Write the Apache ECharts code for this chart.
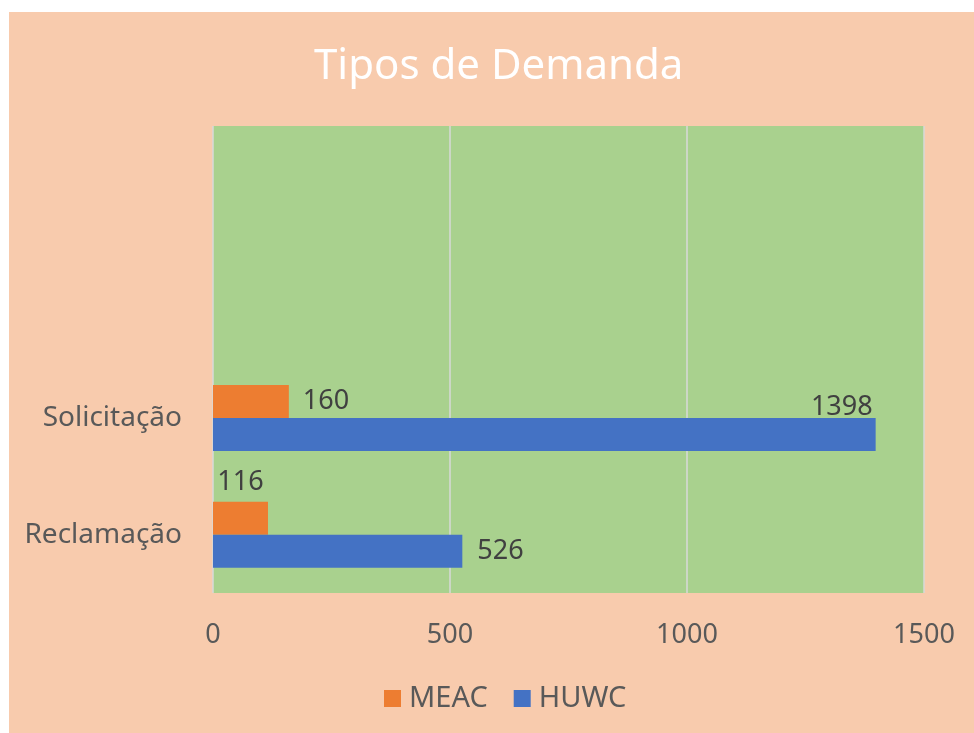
<!DOCTYPE html>
<html>
<head>
<meta charset="utf-8">
<script src="https://cdn.jsdelivr.net/npm/echarts@6/dist/echarts.min.js"></script>
<style>
  body { margin: 0; background: #ffffff; }
  #chart { position: absolute; left: 9px; top: 12px; width: 965px; height: 721px; }
</style>
</head>
<body>
<div id="chart"></div>
<script>
// categories from bottom to top, two empty slots on top like the original
let categories = ['Reclamação', 'Solicitação', '', ''];
let seriesNames = ['MEAC', 'HUWC'];
let meac = [116, 160];
let huwc = [526, 1398];
let xTicks = [0, 500, 1000, 1500];

let labelFont = { fontFamily: 'Noto Sans', fontSize: 27, color: '#404040' };

window.onload = function(){
    let myChart = echarts.init(document.getElementById('chart'));

    let option = {
        backgroundColor: '#F8CBAD',
        animation: false,
        textStyle: { fontFamily: 'Noto Sans' },
        title: {
            text: 'Tipos de Demanda',
            left: 300,
            top: 29,
            textStyle: { color: '#ffffff', fontSize: 42, fontWeight: 'normal', fontFamily: 'Noto Sans' }
        },
        legend: {
            data: seriesNames,
            left: 370,
            top: 667,
            itemWidth: 17,
            itemHeight: 17,
            itemGap: 26,
            icon: 'rect',
            textStyle: { fontSize: 29, color: '#595959', padding: [0, 0, 0, 3] }
        },
        grid: {
            left: 204,
            top: 114,
            width: 711,
            height: 467,
            show: true,
            backgroundColor: '#A9D18E',
            borderWidth: 0
        },
        xAxis: {
            type: 'value',
            min: xTicks[0],
            max: xTicks[xTicks.length - 1],
            interval: 500,
            axisLine: { show: false },
            axisTick: { show: false },
            splitLine: { show: true, lineStyle: { color: '#D9D9D9', width: 1.5 } },
            axisLabel: { fontSize: 27, color: '#595959', margin: 29, formatter: function(v){ return String(v); } }
        },
        yAxis: {
            type: 'category',
            data: categories,
            axisLine: { show: false },
            axisTick: { show: false },
            splitLine: { show: false },
            axisLabel: { fontSize: 28, color: '#595959', margin: 31 }
        },
        series: [
            {
                name: seriesNames[0],
                type: 'bar',
                barWidth: 33,
                barGap: '0%',
                color: '#ED7D31',
                label: Object.assign({ show: true, position: 'right', distance: 14 }, labelFont),
                data: [
                    { value: meac[0], label: { position: 'top', distance: 6 } },
                    meac[1]
                ]
            },
            {
                name: seriesNames[1],
                type: 'bar',
                barWidth: 33,
                barGap: '0%',
                color: '#4472C4',
                label: Object.assign({ show: true, position: 'right', distance: 15 }, labelFont),
                data: [
                    huwc[0],
                    { value: huwc[1], label: { position: 'insideRight', distance: 3, offset: [0, -27] } }
                ]
            }
        ]
    };
    myChart.setOption(option);
}
</script>
</body>
</html>
